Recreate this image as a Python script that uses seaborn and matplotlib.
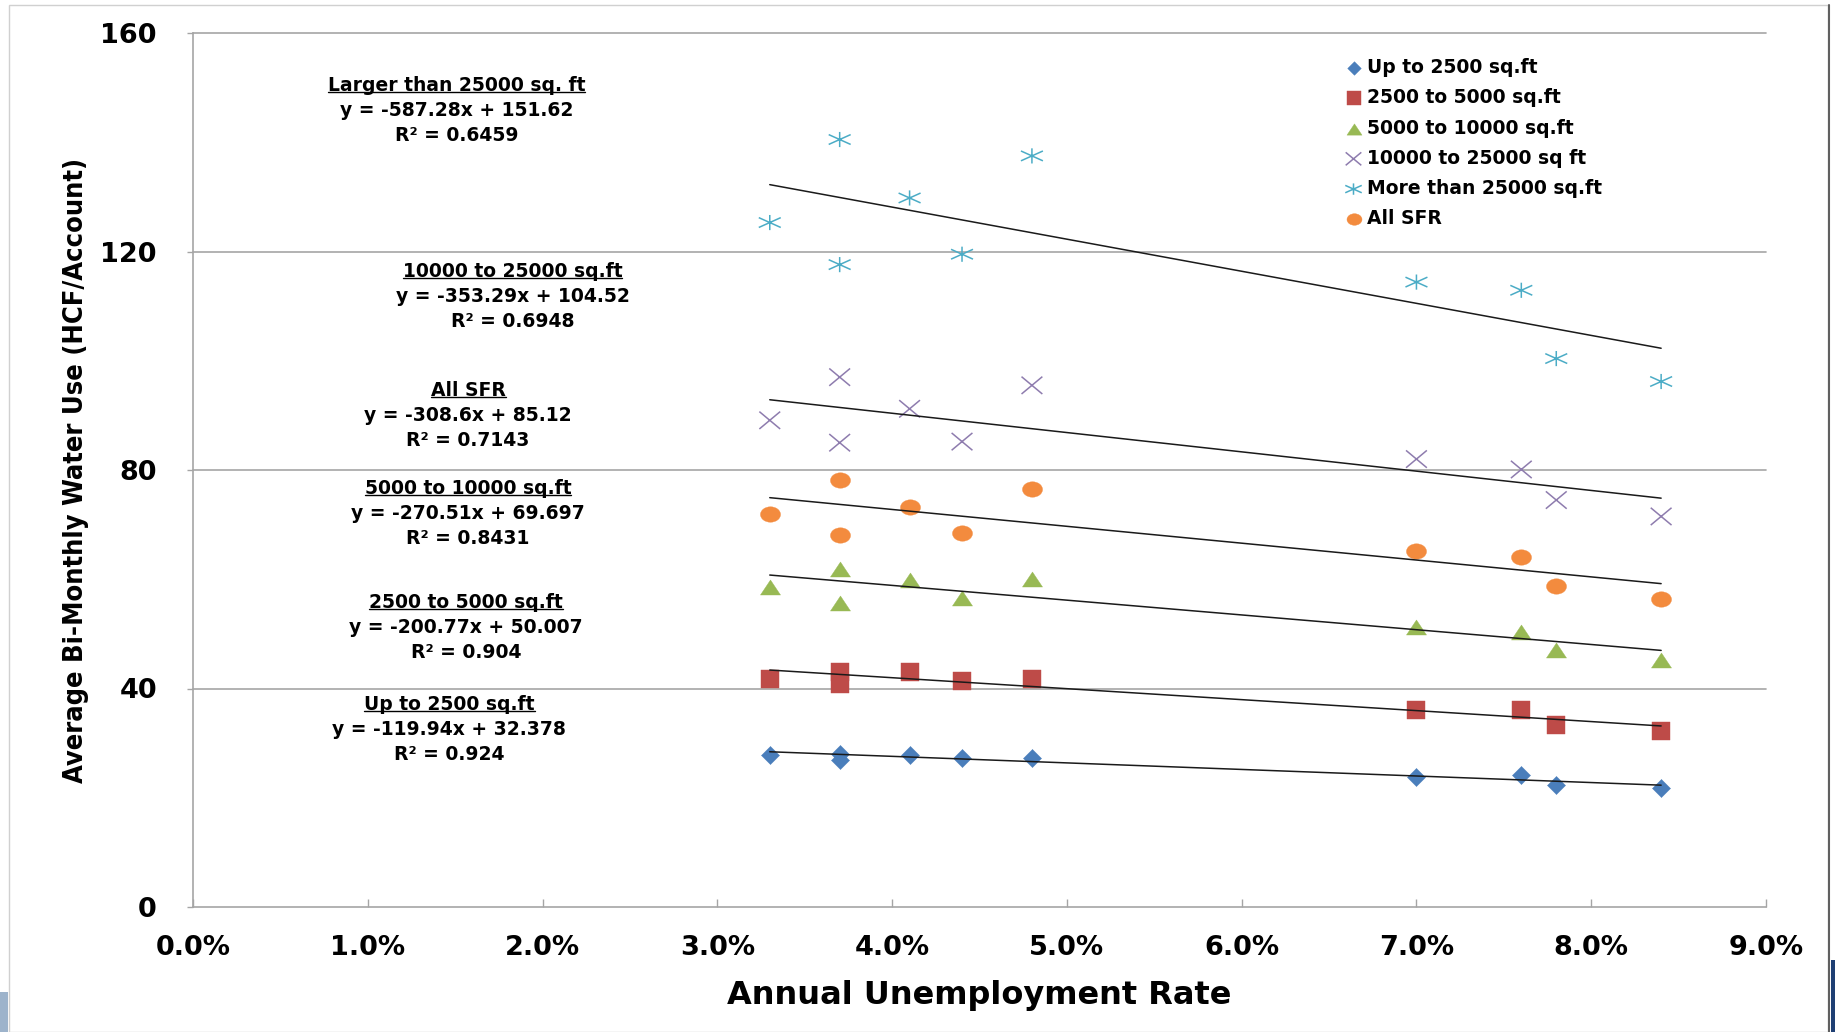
import numpy as np
import pandas as pd
import matplotlib
matplotlib.use("Agg")
import matplotlib.pyplot as plt
import matplotlib.font_manager as fm
import seaborn as sns
from matplotlib.path import Path
from matplotlib.transforms import Affine2D
from matplotlib.ticker import PercentFormatter, MultipleLocator
from matplotlib.lines import Line2D
from matplotlib.patches import Rectangle

# ---------------- data ----------------
unemployment_rate = [0.033, 0.037, 0.037, 0.041, 0.044, 0.048, 0.070, 0.076, 0.078, 0.084]

up_to_2500 = [27.8, 28.1, 27.0, 27.8, 27.2, 27.2, 23.8, 24.2, 22.3, 21.8]
from_2500_to_5000 = [41.8, 43.0, 40.9, 43.0, 41.3, 41.8, 36.0, 36.0, 33.4, 32.3]
from_5000_to_10000 = [58.5, 61.9, 55.7, 59.8, 56.5, 60.0, 51.2, 50.3, 47.1, 45.2]
from_10000_to_25000 = [89.1, 97.0, 85.0, 91.2, 85.2, 95.5, 82.0, 80.1, 74.5, 71.5]
more_than_25000 = [125.3, 140.5, 117.6, 129.8, 119.5, 137.5, 114.4, 112.9, 100.4, 96.2]
all_sfr = [72.0, 78.2, 68.1, 73.2, 68.5, 76.5, 65.1, 64.0, 58.7, 56.3]

series_names = ["Up to 2500 sq.ft", "2500 to 5000 sq.ft", "5000 to 10000 sq.ft",
                "10000 to 25000 sq ft", "More than 25000 sq.ft", "All SFR"]
series_values = [up_to_2500, from_2500_to_5000, from_5000_to_10000,
                 from_10000_to_25000, more_than_25000, all_sfr]

trend_titles = ["Up to 2500 sq.ft", "2500 to 5000 sq.ft", "5000 to 10000 sq.ft",
                "10000 to 25000 sq.ft", "Larger than 25000 sq. ft", "All SFR"]
trend_slopes = [-119.94, -200.77, -270.51, -353.29, -587.28, -308.6]
trend_intercepts = [32.378, 50.007, 69.697, 104.52, 151.62, 85.12]
trend_r2 = ["0.924", "0.904", "0.8431", "0.6948", "0.6459", "0.7143"]

y_ticks = [0, 40, 80, 120, 160]

# ---------------- styles ----------------
colors = ["#4A7EBB", "#BE4B48", "#98B954", "#8E7CAE", "#4BACC6", "#F38B3E"]

ellipse = Path.unit_circle().transformed(Affine2D().scale(1.3, 1.0))
triangle = Path([(0, 0.75), (-1, -0.75), (1, -0.75), (0, 0.75)],
                [Path.MOVETO, Path.LINETO, Path.LINETO, Path.CLOSEPOLY])
xcross = Path([(-1.2, -1), (1.2, 1), (-1.2, 1), (1.2, -1)],
              [Path.MOVETO, Path.LINETO, Path.MOVETO, Path.LINETO])
aster = Path([(0, -1), (0, 1), (-1.45, -0.65), (1.45, 0.65), (-1.45, 0.65), (1.45, -0.65)],
             [Path.MOVETO, Path.LINETO, Path.MOVETO, Path.LINETO, Path.MOVETO, Path.LINETO])
markers = ["D", "s", triangle, xcross, aster, ellipse]
sizes = [85, 175, 207, 225, 250, 207]
line_art = [False, False, False, True, True, False]

# annotation anchor positions (data coords: x, y of title line centre)
ann_pos = [(0.01467, 37.1), (0.01561, 55.7), (0.01574, 76.7),
           (0.01829, 116.3), (0.01507, 150.4), (0.01574, 94.5)]

sns.set_theme(style="white")
plt.rcParams['font.family'] = ['DejaVu Sans']
plt.rcParams['text.color'] = 'black'
plt.rcParams['axes.labelcolor'] = 'black'

W, H = 1835, 1032
fig = plt.figure(figsize=(W / 100, H / 100), dpi=100)
fig.patch.set_facecolor("white")
ax = fig.add_axes([193 / W, 125 / H, (1766 - 193) / W, (907 - 33) / H])

grid_c = "#A5A5A5"
for yv in y_ticks[1:]:
    ax.axhline(yv, color=grid_c, lw=1.2, zorder=0.5, clip_on=False)

for name, vals, col, mk, sz, la in zip(series_names, series_values, colors, markers, sizes, line_art):
    df = pd.DataFrame({"rate": unemployment_rate, "use": vals})
    if la:
        sns.scatterplot(data=df, x="rate", y="use", ax=ax, marker=mk, s=sz, color=col,
                        facecolor="none", edgecolor=col, linewidth=1.1, label=name, zorder=3)
    else:
        sns.scatterplot(data=df, x="rate", y="use", ax=ax, marker=mk, s=sz, color=col,
                        edgecolor=col, linewidth=0.3, label=name, zorder=3)

xr = [min(unemployment_rate), max(unemployment_rate)]
for sl, ic in zip(trend_slopes, trend_intercepts):
    ax.plot(xr, [sl * xr[0] + ic, sl * xr[1] + ic], color="#1a1a1a", lw=1.1, zorder=4)

ax.set_xlim(0, 0.09)
ax.set_ylim(0, 160)
ax.xaxis.set_major_locator(MultipleLocator(0.01))
ax.xaxis.set_major_formatter(PercentFormatter(xmax=1, decimals=1))
ax.set_yticks(y_ticks)

for s in ["top", "right"]:
    ax.spines[s].set_visible(False)
for s in ["left", "bottom"]:
    ax.spines[s].set_color(grid_c)
    ax.spines[s].set_linewidth(1.2)

ax.tick_params(axis="x", direction="in", length=6, width=1.0, color=grid_c, pad=20,
               labelsize=19.5, bottom=True, labelcolor="black")
ax.tick_params(axis="y", direction="out", length=4, width=1.0, color=grid_c, pad=22,
               labelsize=19.5, left=True, labelcolor="black")
for lab in ax.get_xticklabels() + ax.get_yticklabels():
    lab.set_fontweight("bold")

ax.set_xlabel("Annual Unemployment Rate", fontsize=23, fontweight="bold", labelpad=14,
              color="black")

# y label: look for a condensed / narrow face, otherwise a narrow-ish sans
narrow = [f for f in fm.fontManager.ttflist
          if ("Narrow" in f.name or "Condensed" in f.name or
              f.stretch in ("condensed", "semi-condensed", "extra-condensed"))]
narrow_bold = [f for f in narrow if str(f.weight) in ("bold", "700", "600", "semibold", "demibold")]
if narrow_bold:
    yprop = fm.FontProperties(fname=narrow_bold[0].fname)
elif narrow:
    yprop = fm.FontProperties(fname=narrow[0].fname, weight="bold")
else:
    yprop = fm.FontProperties(family=["Roboto", "Lato", "DejaVu Sans"], weight="bold")
yprop.set_size(24)
ylab = ax.set_ylabel("Average Bi-Monthly Water Use (HCF/Account)", fontproperties=yprop,
                     labelpad=8, color="black")

leg = ax.legend(loc="upper left", bbox_to_anchor=((1346 - 193) / (1766 - 193), 1 - (58 - 33) / 874),
                frameon=False, fontsize=13.5, markerscale=0.75, handlelength=0.8,
                handletextpad=0.3, labelspacing=0.6, borderaxespad=0, borderpad=0)
for t in leg.get_texts():
    t.set_fontweight("bold")
    t.set_color("black")

title_texts = []
for (px, py), tt, sl, ic, r2 in zip(ann_pos, trend_titles, trend_slopes, trend_intercepts, trend_r2):
    kw = dict(xycoords="data", textcoords="offset points", ha="center", va="center",
              fontsize=13.5, fontweight="bold", zorder=6, color="black")
    t = ax.annotate(tt, (px, py), xytext=(0, 0), **kw)
    title_texts.append(t)
    ax.annotate(f"y = {sl}x + {ic}", (px, py), xytext=(0, -18), **kw)
    ax.annotate(f"R\u00b2 = {r2}", (px, py), xytext=(0, -36), **kw)

# decorative frame of the slide
fig.add_artist(Rectangle((9 / W, 0), (1828 - 9) / W, (H - 5) / H, transform=fig.transFigure,
                         fill=False, edgecolor="#D0D0D0", lw=1.0))
fig.add_artist(Line2D([1829 / W, 1829 / W], [0, (H - 5) / H], transform=fig.transFigure,
                      color="#606060", lw=1.5))
fig.add_artist(Rectangle((1831 / W, 0), 4 / W, 72 / H, transform=fig.transFigure,
                         facecolor="#1F3F73", edgecolor="none"))
fig.add_artist(Rectangle((0, 0), 8 / W, 40 / H, transform=fig.transFigure,
                         facecolor="#9DB3CB", edgecolor="none"))

# fit the y label length to the reference (~626 px)
fig.canvas.draw()
renderer = fig.canvas.get_renderer()
for _ in range(3):
    hgt = ylab.get_window_extent(renderer).height
    ylab.set_fontsize(ylab.get_fontsize() * 626.0 / hgt)
    fig.canvas.draw()

# underline the annotation titles
inv = fig.transFigure.inverted()
for t in title_texts:
    bb = t.get_window_extent(renderer)
    yb = bb.y0 + 3.0
    (x0, y0), (x1, _) = inv.transform([(bb.x0, yb), (bb.x1, yb)])
    fig.add_artist(Line2D([x0, x1], [y0, y0], transform=fig.transFigure, color="black", lw=1.0))

fig.savefig("out.png", dpi=100, facecolor="white")
